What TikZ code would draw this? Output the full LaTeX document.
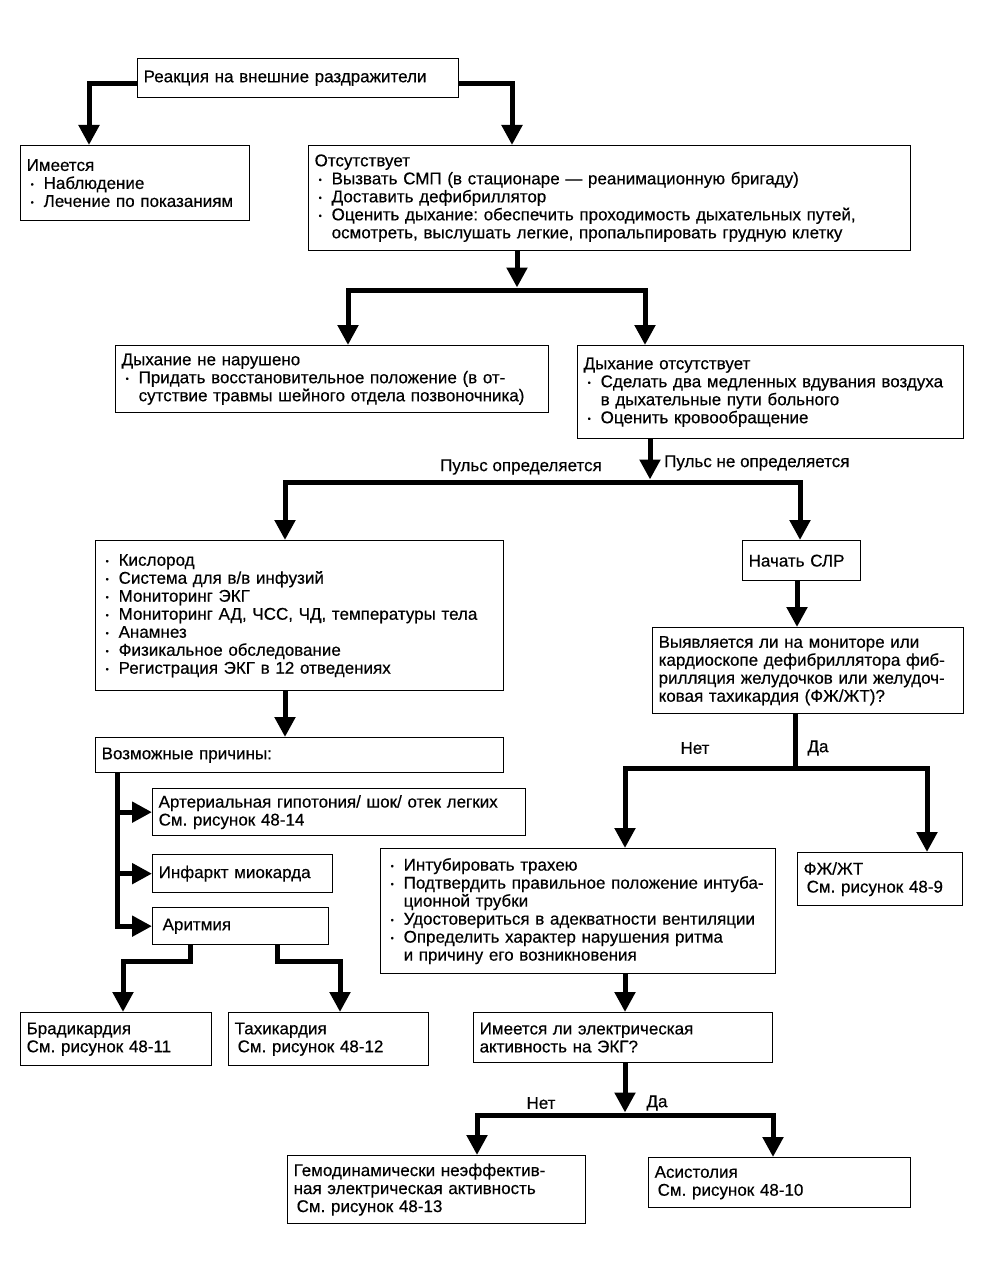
\documentclass[tikz,border=0pt]{standalone}
\usepackage{fontspec}
\setmainfont{Liberation Sans}[FakeBold=0.4]
\usepackage{graphicx}
\usetikzlibrary{arrows.meta}
\frenchspacing
\newcommand{\bul}{\hspace*{4pt}\makebox[13pt][l]{\raisebox{1.5pt}{\fontsize{9}{9}\selectfont •}}}
\newcommand{\ind}{\hspace*{17pt}}
\tikzset{
  box/.style={draw, line width=1.3pt, anchor=north west, inner xsep=6pt, inner ysep=0pt, align=left, font=\fontsize{17}{18}\selectfont},
  conn/.style={line width=5pt},
  arr/.style={conn, -{Triangle[width=20pt,length=20pt]}},
  lbl/.style={font=\fontsize{17}{18}\selectfont, inner sep=0pt}
}
\begin{document}
\frenchspacing
\begin{tikzpicture}[x=1pt,y=-1pt]
\fill[white] (0,0) rectangle (998,1271);
\useasboundingbox (0,0) rectangle (998,1271);

\node[box, minimum width=321pt, minimum height=39pt, text width=309pt] (react) at (137,58) {Реакция на внешние раздражители};
\node[box, minimum width=229pt, minimum height=75pt, text width=217pt] (imeet) at (20,145) {Имеется\\\bul Наблюдение\\\bul Лечение по показаниям};
\node[box, minimum width=602pt, minimum height=105pt, text width=590pt] (otsut) at (308,145) {Отсутствует\\\bul Вызвать СМП (в стационаре — реанимационную бригаду)\\\bul Доставить дефибриллятор\\\bul Оценить дыхание: обеспечить проходимость дыхательных путей,\\\ind осмотреть, выслушать легкие, пропальпировать грудную клетку};
\node[box, minimum width=433pt, minimum height=67pt, text width=421pt] (dnn) at (115,345) {Дыхание не нарушено\\\bul Придать восстановительное положение (в от-\\\ind сутствие травмы шейного отдела позвоночника)};
\node[box, minimum width=386pt, minimum height=93pt, text width=374pt] (dots) at (577,345) {Дыхание отсутствует\\\bul Сделать два медленных вдувания воздуха\\\ind в дыхательные пути больного\\\bul Оценить кровообращение};
\node[box, minimum width=408pt, minimum height=150pt, text width=396pt] (kisl) at (95,540) {\bul Кислород\\\bul Система для в/в инфузий\\\bul Мониторинг ЭКГ\\\bul Мониторинг АД, ЧСС, ЧД, температуры тела\\\bul Анамнез\\\bul Физикальное обследование\\\bul Регистрация ЭКГ в 12 отведениях};
\node[box, minimum width=118pt, minimum height=40pt, text width=106pt] (slr) at (742,540) {Начать СЛР};
\node[box, minimum width=311pt, minimum height=86pt, text width=299pt] (vyyav) at (652,627) {Выявляется ли на мониторе или\\кардиоскопе дефибриллятора фиб-\\рилляция желудочков или желудоч-\\ковая тахикардия (ФЖ/ЖТ)?};
\node[box, minimum width=408pt, minimum height=35pt, text width=396pt] (vozm) at (95,737) {Возможные причины:};
\node[box, minimum width=373pt, minimum height=47pt, text width=361pt] (arter) at (152,788) {Артериальная гипотония/ шок/ отек легких\\См. рисунок 48-14};
\node[box, minimum width=180pt, minimum height=38pt, text width=168pt] (infarkt) at (152,854) {Инфаркт миокарда};
\node[box, minimum width=176pt, minimum height=37pt, text width=164pt] (aritm) at (152,907) {\hspace*{4pt}Аритмия};
\node[box, minimum width=395pt, minimum height=125pt, text width=383pt] (intub) at (380,848) {\bul Интубировать трахею\\\bul Подтвердить правильное положение интуба-\\\ind ционной трубки\\\bul Удостовериться в адекватности вентиляции\\\bul Определить характер нарушения ритма\\\ind и причину его возникновения};
\node[box, minimum width=165pt, minimum height=53pt, text width=153pt] (fzh) at (797,852) {ФЖ/ЖТ\\\hspace*{3pt}См. рисунок 48-9};
\node[box, minimum width=299pt, minimum height=50pt, text width=287pt] (elact) at (473,1012) {Имеется ли электрическая\\активность на ЭКГ?};
\node[box, minimum width=191pt, minimum height=53pt, text width=179pt] (brad) at (20,1012) {Брадикардия\\См. рисунок 48-11};
\node[box, minimum width=200pt, minimum height=53pt, text width=188pt] (tahi) at (228,1012) {Тахикардия\\\hspace*{3pt}См. рисунок 48-12};
\node[box, minimum width=298pt, minimum height=68pt, text width=286pt] (gemo) at (287,1155) {Гемодинамически неэффектив-\\ная электрическая активность\\\hspace*{3pt}См. рисунок 48-13};
\node[box, minimum width=262pt, minimum height=50pt, text width=250pt] (asist) at (648,1157) {Асистолия\\\hspace*{3pt}См. рисунок 48-10};

\coordinate (j1) at (517,290);
\coordinate (j2) at (650,482);
\coordinate (j3) at (795,768);
\coordinate (j4) at (625,1115);
\coordinate (vtop) at ([xshift=22pt]vozm.south west);

\draw[arr] ([yshift=-5pt]react.west) -| ([xshift=69pt]imeet.north west);
\draw[arr] ([yshift=-5pt]react.east) -| ([xshift=204pt]otsut.north west);
\draw[arr] (otsut.south -| j1) -- ([yshift=2.5pt]j1);
\draw[arr] (j1) -| ([xshift=233pt]dnn.north west);
\draw[arr] (j1) -| ([xshift=68pt]dots.north west);
\draw[arr] (dots.south -| j2) -- ([yshift=2.5pt]j2);
\draw[arr] (j2) -| ([xshift=190pt]kisl.north west);
\draw[arr] (j2) -| ([xshift=58pt]slr.north west);
\draw[arr] ([xshift=55pt]slr.south west) -- ([xshift=145pt]vyyav.north west);
\draw[conn] (vyyav.south -| j3) -- (j3);
\draw[arr] (j3) -| ([xshift=245pt]intub.north west);
\draw[arr] (j3) -| ([xshift=130pt]fzh.north west);
\draw[arr] ([xshift=245pt]intub.south west) -- ([xshift=152pt]elact.north west);
\draw[arr] ([xshift=152pt]elact.south west) -- ([yshift=2.5pt]j4);
\draw[arr] (j4) -| ([xshift=190pt]gemo.north west);
\draw[arr] (j4) -| ([xshift=125pt]asist.north west);
\draw[arr] ([xshift=190pt]kisl.south west) -- ([xshift=190pt]vozm.north west);
\draw[arr] (vtop) |- (aritm.west);
\draw[arr] (vtop |- arter.west) -- (arter.west);
\draw[arr] (vtop |- infarkt.west) -- (infarkt.west);
\draw[arr] ([xshift=38pt]aritm.south west) -- ++(0,16) -| ([xshift=103pt]brad.north west);
\draw[arr] ([xshift=125pt]aritm.south west) -- ++(0,16) -| ([xshift=112pt]tahi.north west);

\node[lbl, anchor=east] (lp1) at (602,467) {Пульс определяется};
\node[lbl, anchor=west] (lp2) at (664,463) {Пульс не определяется};
\node[lbl] (ln1) at (695,748) {Нет};
\node[lbl] (ld1) at (818,748) {Да};
\node[lbl] (ln2) at (541,1103) {Нет};
\node[lbl] (ld2) at (657,1103) {Да};
\end{tikzpicture}
\end{document}
